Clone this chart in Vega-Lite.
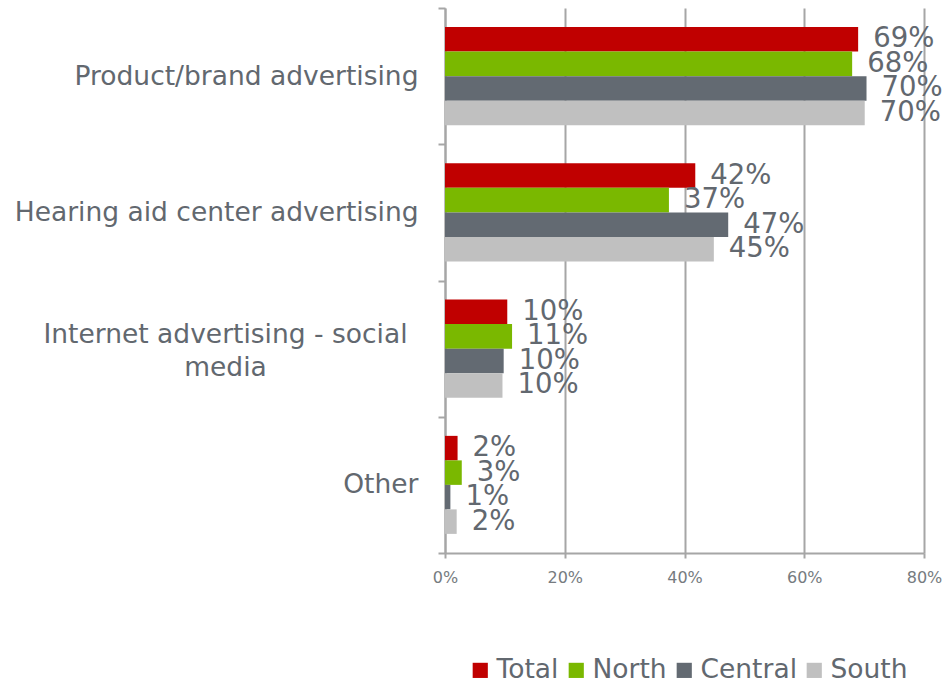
{
  "$schema": "https://vega.github.io/schema/vega-lite/v6.json",
  "width": 479,
  "height": 545,
  "autosize": "none",
  "padding": {"left": 445, "top": 8, "right": 21, "bottom": 128},
  "background": "white",
  "config": {"view": {"stroke": null}, "font": "DejaVu Sans"},
  "data": {
    "values": [
      {"category": "Product/brand advertising", "region": "Total", "value": 0.690},
      {"category": "Product/brand advertising", "region": "North", "value": 0.680},
      {"category": "Product/brand advertising", "region": "Central", "value": 0.704},
      {"category": "Product/brand advertising", "region": "South", "value": 0.701},
      {"category": "Hearing aid center advertising", "region": "Total", "value": 0.418},
      {"category": "Hearing aid center advertising", "region": "North", "value": 0.374},
      {"category": "Hearing aid center advertising", "region": "Central", "value": 0.473},
      {"category": "Hearing aid center advertising", "region": "South", "value": 0.449},
      {"category": "Internet advertising - social media", "region": "Total", "value": 0.104},
      {"category": "Internet advertising - social media", "region": "North", "value": 0.112},
      {"category": "Internet advertising - social media", "region": "Central", "value": 0.098},
      {"category": "Internet advertising - social media", "region": "South", "value": 0.096},
      {"category": "Other", "region": "Total", "value": 0.021},
      {"category": "Other", "region": "North", "value": 0.028},
      {"category": "Other", "region": "Central", "value": 0.009},
      {"category": "Other", "region": "South", "value": 0.0195}
    ]
  },
  "encoding": {
    "y": {
      "field": "category",
      "type": "nominal",
      "sort": ["Product/brand advertising", "Hearing aid center advertising", "Internet advertising - social media", "Other"],
      "scale": {"paddingInner": 0, "paddingOuter": 0},
      "axis": {
        "title": null,
        "domainColor": "#A6A6A6",
        "domainWidth": 2,
        "tickBand": "extent",
        "tickColor": "#A6A6A6",
        "tickWidth": 2,
        "tickSize": 7,
        "labelFontSize": 26.5,
        "labelColor": "#62686F",
        "labelLimit": 0,
        "labelLineHeight": 33,
        "labelExpr": "datum.label == 'Internet advertising - social media' ? ['Internet advertising - social', 'media'] : datum.label",
        "labelAlign": {"condition": {"test": "datum.value == 'Internet advertising - social media'", "value": "center"}, "value": "right"},
        "labelPadding": {"condition": {"test": "datum.value == 'Internet advertising - social media'", "value": 213}, "value": 20},
        "labelOffset": {"condition": {"test": "datum.value == 'Internet advertising - social media'", "value": -14}, "value": 0}
      }
    },
    "yOffset": {
      "field": "region",
      "type": "nominal",
      "sort": ["Total", "North", "Central", "South"],
      "scale": {"paddingInner": 0, "paddingOuter": 0.78}
    },
    "x": {
      "field": "value",
      "type": "quantitative",
      "scale": {"domain": [0, 0.8], "nice": false},
      "axis": {
        "title": null,
        "values": [0, 0.2, 0.4, 0.6, 0.8],
        "format": ".0%",
        "grid": true,
        "gridColor": "#A6A6A6",
        "gridWidth": 2,
        "domainColor": "#A6A6A6",
        "domainWidth": 2,
        "tickColor": "#A6A6A6",
        "tickWidth": 2,
        "tickSize": 5,
        "labelFlush": false,
        "labelFontSize": 16,
        "labelColor": "#767B80",
        "labelPadding": 11
      }
    }
  },
  "layer": [
    {
      "mark": {"type": "bar"},
      "encoding": {
        "color": {
          "field": "region",
          "type": "nominal",
          "sort": ["Total", "North", "Central", "South"],
          "scale": {"domain": ["Total", "North", "Central", "South"], "range": ["#C00000", "#7AB800", "#636A72", "#C0C0C0"]},
          "legend": {
            "orient": "none",
            "legendX": 22,
            "legendY": 649,
            "direction": "horizontal",
            "title": null,
            "padding": 0,
            "symbolType": "square",
            "symbolSize": 230,
            "symbolStrokeWidth": 0,
            "labelFontSize": 26.5,
            "labelColor": "#62686F",
            "labelOffset": 3,
            "columnPadding": 4
          }
        }
      }
    },
    {
      "mark": {"type": "text", "align": "left", "baseline": "middle", "dx": 15, "fontSize": 27.5, "color": "#62686F"},
      "encoding": {"text": {"field": "value", "type": "quantitative", "format": ".0%"}}
    }
  ]
}
